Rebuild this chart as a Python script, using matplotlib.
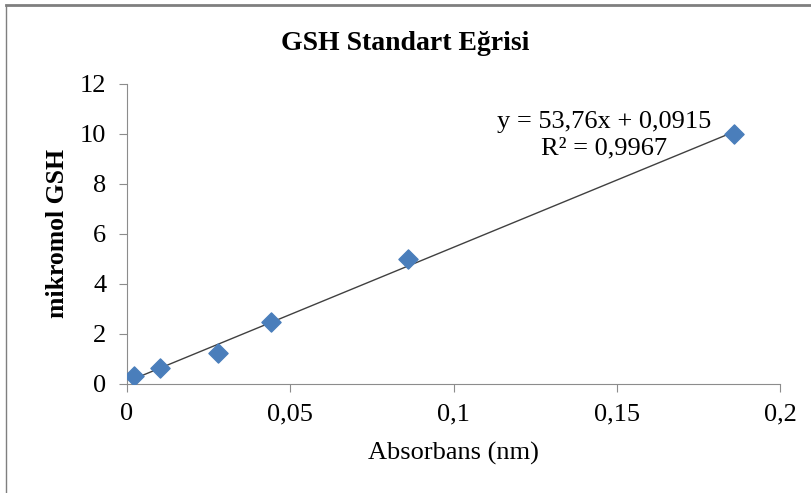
import numpy as np
import matplotlib.pyplot as plt
from matplotlib.lines import Line2D
from matplotlib.ticker import FuncFormatter

absorbans = [0.002, 0.010, 0.028, 0.044, 0.086, 0.186]
gsh = [0.3125, 0.625, 1.25, 2.5, 5.0, 10.0]
slope = 53.76
intercept = 0.0915
r2 = 0.9967

plt.rcParams['font.family'] = ['Liberation Serif', 'DejaVu Serif']

fig = plt.figure(figsize=(8.11, 4.93), dpi=100)
ax = fig.add_axes([127 / 811, 1 - 384 / 493, 653 / 811, 300 / 493])

ax.scatter(absorbans, gsh, marker='D', s=95, color='#4a7ebb', zorder=3)

xs = np.array([min(absorbans), max(absorbans)])
ax.plot(xs, slope * xs + intercept, color='#404040', linewidth=1, zorder=2)

ax.set_xlim(0, 0.2)
ax.set_ylim(0, 12)
ax.set_xticks([0, 0.05, 0.1, 0.15, 0.2])
ax.set_yticks(range(0, 13, 2))
comma = FuncFormatter(lambda v, p: ('%g' % v).replace('.', ','))
ax.xaxis.set_major_formatter(comma)
ax.yaxis.set_major_formatter(comma)

for s in ['top', 'right']:
    ax.spines[s].set_visible(False)
for s in ['left', 'bottom']:
    ax.spines[s].set_color('#8c8c8c')
ax.tick_params(colors='#8c8c8c', labelcolor='black', labelsize=19, length=6)
ax.tick_params(axis='y', pad=9)
ax.tick_params(axis='x', pad=8)

ax.set_xlabel('Absorbans (nm)', fontsize=19, labelpad=12)
ax.set_ylabel('mikromol GSH', fontsize=18.5, fontweight='bold', labelpad=8)
fig.text(0.5, 1 - 43 / 493, 'GSH Standart Eğrisi', ha='center', va='center',
         fontsize=20, fontweight='bold')

eq = 'y = %s' % ('%.2fx + %.4f' % (slope, intercept)).replace('.', ',')
ax.text(0.146, 9.94, eq + '\nR² = ' + ('%.4f' % r2).replace('.', ','),
        ha='center', va='center', fontsize=19, linespacing=1.25)

# outer chart border (cropped on the right and bottom)
fig.add_artist(Line2D([6 / 811, 1], [1 - 5 / 493, 1 - 5 / 493], color='#7f7f7f', linewidth=2))
fig.add_artist(Line2D([6 / 811, 6 / 811], [0, 1 - 5 / 493], color='#7f7f7f', linewidth=1))

fig.savefig('out.png', dpi=100)
